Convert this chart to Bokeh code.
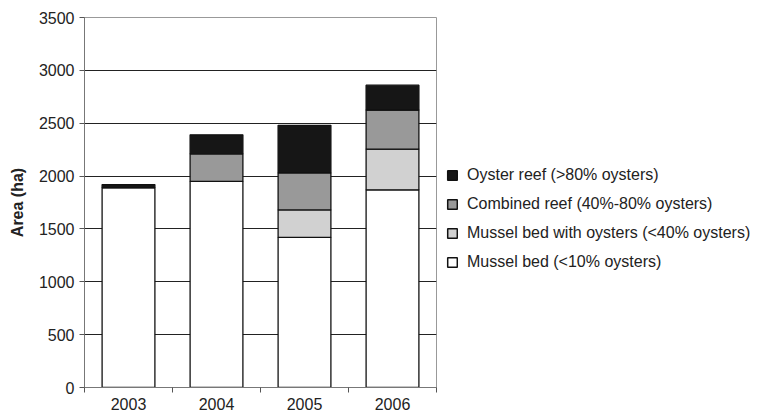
from bokeh.plotting import figure
from bokeh.layouts import row
from bokeh.models import Range1d, FixedTicker, Legend, LegendItem
from bokeh.embed import file_html
from bokeh.resources import INLINE

years = ["2003", "2004", "2005", "2006"]
mussel_bed = [1890, 1950, 1420, 1870]
mussel_bed_oysters = [0, 0, 260, 385]
combined_reef = [0, 260, 350, 370]
oyster_reef = [30, 180, 450, 235]

series_names = ["mussel_bed", "mussel_bed_oysters", "combined_reef", "oyster_reef"]
series_labels = ["Mussel bed (<10% oysters)", "Mussel bed with oysters (<40% oysters)",
                 "Combined reef (40%-80% oysters)", "Oyster reef (>80% oysters)"]
series_colors = ["#ffffff", "#d1d1d1", "#999999", "#161616"]
y_ticks = [0, 500, 1000, 1500, 2000, 2500, 3000, 3500]

xs = [i + 0.5 for i in range(len(years))]
data = dict(x=xs, mussel_bed=mussel_bed, mussel_bed_oysters=mussel_bed_oysters,
            combined_reef=combined_reef, oyster_reef=oyster_reef)

FONT = "Liberation Sans"
H = 413

p = figure(frame_width=352, frame_height=370, output_backend="svg", toolbar_location=None,
           x_range=Range1d(0, len(years)), y_range=Range1d(0, 3500),
           min_border_left=84, min_border_right=1, min_border_top=17, min_border_bottom=10)

renderers = p.vbar_stack(series_names, x="x", width=0.6, source=data,
                         fill_color=series_colors, line_color="#111111", line_width=1.3)

# axes
p.xaxis.ticker = FixedTicker(ticks=xs, minor_ticks=list(range(len(years) + 1)))
p.xaxis.major_label_overrides = {x: y for x, y in zip(xs, years)}
p.xaxis.major_tick_out = 0
p.xaxis.major_tick_in = 0
p.xaxis.minor_tick_out = 5
p.xaxis.minor_tick_in = 0
p.xaxis.major_label_standoff = 5
p.yaxis.ticker = FixedTicker(ticks=y_ticks)
p.yaxis.minor_tick_out = 0
p.yaxis.minor_tick_in = 0
p.yaxis.major_tick_in = 0
p.yaxis.major_tick_out = 5
p.yaxis.major_label_standoff = 5
p.yaxis.axis_label = "Area (ha)"
p.yaxis.axis_label_text_font = FONT
p.yaxis.axis_label_text_font_style = "bold"
p.yaxis.axis_label_text_font_size = "16px"
p.yaxis.axis_label_text_color = "#222222"
p.yaxis.axis_label_standoff = 10
for ax in (p.xaxis, p.yaxis):
    ax.axis_line_color = "#777777"
    ax.major_tick_line_color = "#555555"
    ax.minor_tick_line_color = "#555555"
    ax.major_label_text_font = FONT
    ax.major_label_text_font_size = "16px"
    ax.major_label_text_color = "#222222"

p.xgrid.visible = False
p.ygrid.ticker = FixedTicker(ticks=[500, 1000, 1500, 2000, 2500, 3000])
p.ygrid.grid_line_color = "#222222"
p.ygrid.grid_line_width = 1
p.ygrid.level = "underlay"
p.outline_line_color = "#999999"
p.outline_line_width = 1

# legend panel (swatch renderers carry no drawable data)
lp = figure(width=321, height=H, output_backend="svg", toolbar_location=None,
            x_range=Range1d(0, 1), y_range=Range1d(0, 1),
            min_border=0, outline_line_color=None)
lp.axis.visible = False
lp.grid.visible = False
legend_renderers = [lp.vbar(x=[float("nan")], top=[float("nan")], bottom=[float("nan")], width=0.5,
                            fill_color=c, line_color="#111111", line_width=1.5)
                    for c in series_colors]
items = [LegendItem(label=lbl, renderers=[r]) for lbl, r in zip(series_labels, legend_renderers)]
legend = Legend(items=list(reversed(items)), location=(9, 116),
                label_text_font=FONT, label_text_font_size="16px", label_text_color="#222222",
                glyph_width=12, glyph_height=12, label_standoff=9, label_height=20,
                spacing=9, padding=0, margin=0, border_line_color=None, background_fill_alpha=0)
lp.add_layout(legend)

layout = row(p, lp)
open("out.html", "w").write(file_html(layout, INLINE))
